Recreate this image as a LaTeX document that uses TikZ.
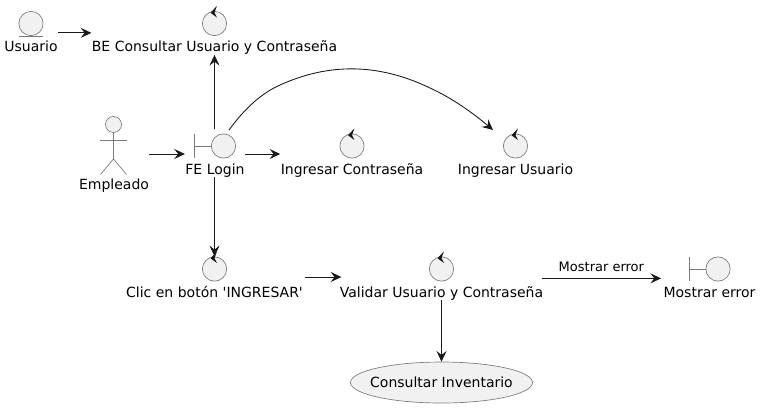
\documentclass[tikz,border=0pt]{standalone}
\usepackage{fontspec}
\setmainfont{DejaVu Sans}
\usetikzlibrary{calc}
\usetikzlibrary{fit}
\usetikzlibrary{arrows.meta}
\usetikzlibrary{shapes.geometric}
\definecolor{symfill}{HTML}{F1F1F1}
\definecolor{symline}{HTML}{7A7A7A}
\definecolor{flowline}{HTML}{181818}
\tikzstyle{symbol}=[circle,draw=symline,fill=symfill,line width=0.5pt,minimum size=18.2pt,inner sep=0pt]
\tikzstyle{symstroke}=[draw=symline,line width=0.5pt]
\tikzstyle{caption}=[anchor=base,inner sep=0pt,font=\fontsize{10.5}{12}\selectfont]
\tikzstyle{hull}=[inner sep=0pt]
\tikzstyle{flow}=[draw=flowline,line width=0.65pt,-{Stealth[length=8pt,width=7.5pt,inset=3pt]}]
\newcommand{\newcontrol}[3]{
	\node[symbol] (#1-s) at (#2) {};
	\begin{scope}[shift={(#2)}]
	\fill[flowline] (-4,-10.7) -- (2.4,-17.6) -- (0,-10.8) -- (2.4,-6) -- cycle;
	\end{scope}
	\node[caption] (#1-l) at ($(#2)+(0,28)$) {#3};
	\node[hull,fit=(#1-s)(#1-l)] (#1) {};
}
\newcommand{\newboundary}[3]{
	\node[symbol] (#1-s) at ($(#2)+(8.5,0)$) {};
	\draw[symstroke] ($(#2)+(-20.5,-12)$) -- ($(#2)+(-20.5,12)$);
	\draw[symstroke] ($(#2)+(-20.5,0)$) -- (#1-s);
	\node[caption] (#1-l) at ($(#2)+(0,28)$) {#3};
	\node[hull,fit=(#1-s)(#1-l)] (#1) {};
}
\newcommand{\newentity}[3]{
	\node[symbol] (#1-s) at (#2) {};
	\draw[symstroke] ($(#2)+(-12,13)$) -- ($(#2)+(12,13)$);
	\node[caption] (#1-l) at ($(#2)+(0,28)$) {#3};
	\node[hull,fit=(#1-s)(#1-l)] (#1) {};
}
\begin{document}
\begin{tikzpicture}[x=0.75pt,y=-0.75pt]
	\useasboundingbox (0,0) rectangle (763,408);
	%top row
	\newentity{usuario}{31,23.5}{Usuario}
	\newcontrol{beconsulta}{214.5,23.5}{BE Consultar Usuario y Contraseña}
	%actor
	\node[symbol,minimum size=12pt] (empleado-s) at (113.5,124.5) {};
	\draw[symstroke] (empleado-s) -- (113.5,159) coordinate (empleado-h);
	\draw[symstroke] (100,140.5) -- (127,140.5);
	\draw[symstroke] (100.5,174.5) -- (empleado-h) -- (126.5,174.5);
	\node[caption] (empleado-l) at (114,189) {Empleado};
	\node[hull,fit=(empleado-s)(empleado-l)] (empleado) {};
	%middle row
	\newboundary{login}{215,146}{FE Login}
	\newcontrol{ingclave}{352,146}{Ingresar Contraseña}
	\newcontrol{ingusuario}{515.5,146}{Ingresar Usuario}
	%bottom row
	\newcontrol{clic}{214.5,269}{Clic en botón \textquotesingle INGRESAR\textquotesingle}
	\newcontrol{validar}{441.5,269}{Validar Usuario y Contraseña}
	\newboundary{error}{709.5,269}{Mostrar error}
	\node[symbol,ellipse,minimum width=136.5pt,minimum height=30.75pt] (inventario) at (441.5,382.5) {};
	\node[caption] (inventario-l) at (441.5,387) {Consultar Inventario};
	%connectors
	\draw[flow] (usuario.east |- beconsulta.west) -- (beconsulta.west);
	\draw[flow] (empleado.east |- login-s) ++(0,8) coordinate (empleado-o) -- (login.west |- empleado-o);
	\draw[flow] (login.east |- ingclave-s) ++(0,8) coordinate (login-o) -- (ingclave.west |- login-o);
	\draw[flow] (beconsulta.south |- login.north) ++(0,-4) coordinate (login-u) -- (beconsulta.south);
	\draw[flow] (clic.north |- login.south) -- (clic.north);
	\draw[flow] ([xshift=1.5pt]clic.east) -- ([xshift=1.5pt]validar.west |- clic.east);
	\draw[flow] ([xshift=-1.5pt]validar.east) -- node[above=4.5pt,inner sep=0pt,font=\fontsize{9.75}{12}\selectfont] (errortext) {Mostrar error} ([xshift=-1.5pt]error.west |- validar.east);
	\draw[flow] (validar.south -| inventario.north) -- (inventario.north);
	\coordinate (login-c) at ($(login-s)+(5.5,-16)$);
	\coordinate (ingusuario-c) at ($(ingusuario-s)+(-22.5,-16)$);
	\draw[flow] (login-c) .. controls (245,108) and (262,93) .. (280,85) .. controls (322,66) and (372,60) .. (430,88) .. controls (452,98) and (473,113) .. (ingusuario-c);
\end{tikzpicture}
\end{document}
